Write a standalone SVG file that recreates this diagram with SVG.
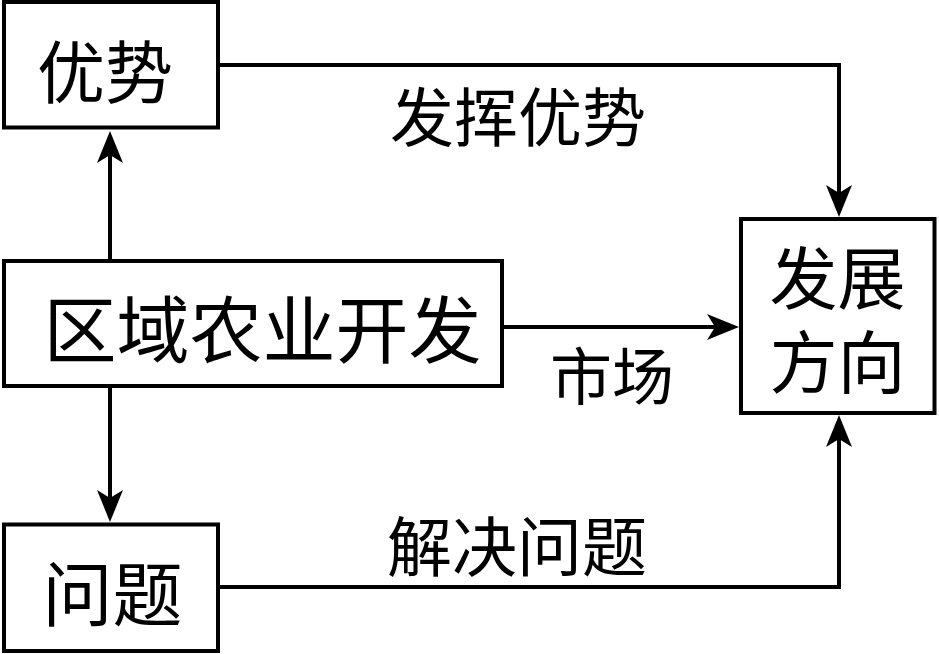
<svg xmlns="http://www.w3.org/2000/svg" width="939" height="654" viewBox="0 0 939 654">
<style>
.box{fill:#fff;stroke:#000;stroke-width:4}
.t{font-family:"Noto Sans CJK SC","Noto Sans CJK JP",sans-serif;fill:#000;text-anchor:middle;dominant-baseline:central}
.c{fill:none;stroke:#000;stroke-width:4}
</style>
<defs>
<marker id="ah" markerUnits="userSpaceOnUse" viewBox="0 0 32 26" refX="22" refY="13" markerWidth="32" markerHeight="26" orient="auto">
<path d="M0,0 L32,13 L0,26 L8,13 Z" fill="#000"/>
</marker>
</defs>
<rect width="939" height="654" fill="#fff"/>
<g id="connectors">
<path class="c" d="M110,261 V141" marker-end="url(#ah)"/>
<path class="c" d="M110,386 V512" marker-end="url(#ah)"/>
<path class="c" d="M218,65 H839 V207" marker-end="url(#ah)"/>
<path class="c" d="M502,327 H729" marker-end="url(#ah)"/>
<path class="c" d="M218,587 H839 V425" marker-end="url(#ah)"/>
<text class="t" x="518" y="113" font-size="64">发挥优势</text>
<text class="t" x="612" y="373" font-size="62">市场</text>
<text class="t" x="517" y="543" font-size="65">解决问题</text>
</g>
<g id="youshi">
<rect class="box" x="4" y="2" width="214" height="125.5"/>
<text class="t" x="105" y="68" font-size="68">优势</text>
</g>
<g id="quyu">
<rect class="box" x="4" y="261" width="498" height="125"/>
<text class="t" x="262.5" y="325" font-size="73">区域农业开发</text>
</g>
<g id="wenti">
<rect class="box" x="4" y="524.5" width="214" height="126.5"/>
<text class="t" x="112.5" y="590.5" font-size="70">问题</text>
</g>
<g id="fazhan">
<rect class="box" x="741" y="219" width="193.5" height="194"/>
<text class="t" font-size="68"><tspan x="837.5" y="273.5">发展</tspan><tspan x="837.5" y="357.5">方向</tspan></text>
</g>
</svg>
